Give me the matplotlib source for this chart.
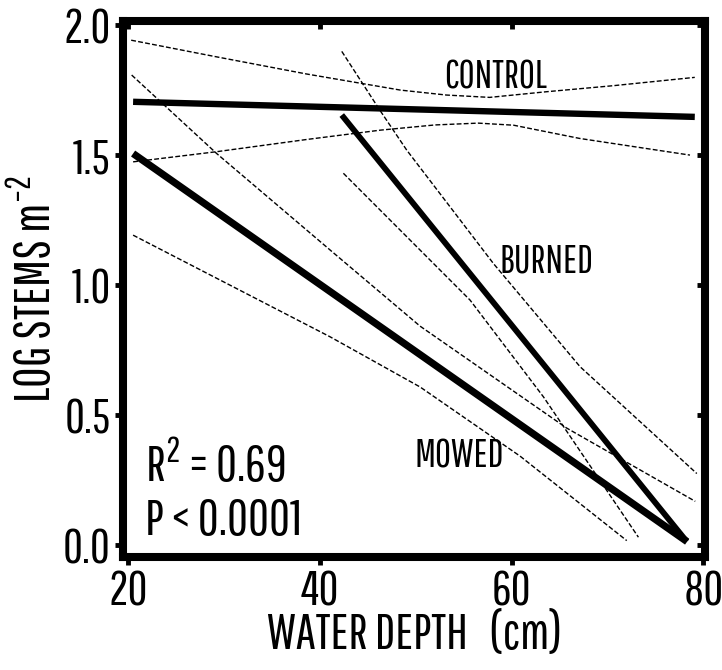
import matplotlib
matplotlib.use("Agg")
import matplotlib.pyplot as plt
from matplotlib import font_manager as fm

# ---------------- data ----------------
x_ticks = [20, 40, 60, 80]
y_ticks = [0.0, 0.5, 1.0, 1.5, 2.0]
y_tick_labels = ["0.0", "0.5", "1.0", "1.5", "2.0"]

control_fit_x = [20.5, 79.1]
control_fit_y = [1.705, 1.647]
control_upper_x = [20.3, 29.2, 38.6, 48.4, 53.2, 57.7, 63.7, 70.6, 79.1]
control_upper_y = [1.942, 1.878, 1.812, 1.750, 1.731, 1.722, 1.744, 1.767, 1.799]
control_lower_x = [20.5, 29.2, 38.6, 46.3, 52.0, 56.5, 60.2, 67.1, 78.6]
control_lower_y = [1.474, 1.513, 1.560, 1.596, 1.616, 1.623, 1.615, 1.564, 1.500]

burned_fit_x = [42.27, 78.27]
burned_fit_y = [1.654, 0.013]
burned_upper_x = [42.27, 46.24, 49.05, 58.09, 67.13, 79.31]
burned_upper_y = [1.899, 1.673, 1.519, 1.083, 0.686, 0.275]
burned_lower_x = [42.44, 55.66, 63.31, 73.22]
burned_lower_y = [1.430, 0.942, 0.570, 0.030]

mowed_fit_x = [20.5, 78.3]
mowed_fit_y = [1.506, 0.013]
mowed_upper_x = [20.35, 29.22, 41.05, 50.44, 65.73, 79.15]
mowed_upper_y = [1.808, 1.506, 1.135, 0.842, 0.450, 0.168]
mowed_lower_x = [20.5, 41.05, 50.44, 60.87, 72.0]
mowed_lower_y = [1.192, 0.801, 0.608, 0.342, 0.017]

# ---------------- font ----------------
available = {f.name for f in fm.fontManager.ttflist}
family = "DejaVu Sans"
for cand in ["Pathway Gothic One", "Fira Sans Extra Condensed", "Sofia Sans Extra Condensed",
             "Barlow Condensed", "Archivo Narrow", "PT Sans Narrow", "Roboto Condensed",
             "Liberation Sans Narrow", "Liberation Sans"]:
    if cand in available:
        family = cand
        break
plt.rcParams["font.family"] = [family, "DejaVu Sans"]
plt.rcParams["mathtext.fontset"] = "custom"
plt.rcParams["mathtext.rm"] = family
plt.rcParams["mathtext.it"] = family
plt.rcParams["mathtext.default"] = "regular"

fig = plt.figure(figsize=(7.22, 6.70), dpi=100)
fig.patch.set_facecolor("white")
ax = fig.add_axes([0.1708, 0.1687, 0.8057, 0.8004])
ax.set_xlim(19.48, 80.17)
ax.set_ylim(-0.046, 2.017)

dash = (0, (3.5, 1.6))
thin = 1.0
for xs, ys in [(control_upper_x, control_upper_y), (control_lower_x, control_lower_y),
               (burned_upper_x, burned_upper_y), (burned_lower_x, burned_lower_y),
               (mowed_upper_x, mowed_upper_y), (mowed_lower_x, mowed_lower_y)]:
    ax.plot(xs, ys, color="black", lw=thin, linestyle=dash)

ax.plot(control_fit_x, control_fit_y, color="black", lw=4.6, solid_capstyle="butt")
ax.plot(burned_fit_x, burned_fit_y, color="black", lw=4.2, solid_capstyle="butt")
ax.plot(mowed_fit_x, mowed_fit_y, color="black", lw=5.2, solid_capstyle="butt")

ax.text(58.3, 1.797, "CONTROL", fontsize=28, ha="center", va="center")
ax.text(63.6, 1.09, "BURNED", fontsize=28, ha="center", va="center")
ax.text(54.5, 0.34, "MOWED", fontsize=28, ha="center", va="center")
ax.text(21.7, 0.244, r"R$^{2}$ = 0.69", fontsize=37, ha="left", va="baseline")
ax.text(21.7, 0.038, "P < 0.0001", fontsize=37, ha="left", va="baseline")

for s in ax.spines.values():
    s.set_linewidth(5.8)

ax.set_xticks(x_ticks)
ax.set_yticks(y_ticks)
ax.set_yticklabels(y_tick_labels)
ax.tick_params(axis="both", direction="out", length=6, width=3.5, labelsize=35, pad=3)

top = ax.secondary_xaxis("top")
top.set_xticks(x_ticks)
top.tick_params(direction="in", length=6, width=3.5, labeltop=False)
top.spines["top"].set_visible(False)
right = ax.secondary_yaxis("right")
right.set_yticks(y_ticks)
right.tick_params(direction="in", length=6, width=3.5, labelright=False)
right.spines["right"].set_visible(False)

ax.set_xlabel("WATER DEPTH   (cm)", fontsize=36, labelpad=-2)
ax.set_ylabel(r"LOG STEMS m$^{-2}$", fontsize=36, labelpad=2)

fig.savefig("out.png", dpi=100, facecolor="white")
